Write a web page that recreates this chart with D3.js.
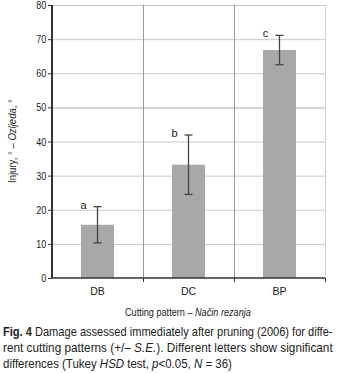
<!DOCTYPE html>
<html><head><meta charset="utf-8">
<script src="https://cdn.jsdelivr.net/npm/d3@7"></script>
<style>
body{margin:0;background:#fff;}
svg{display:block;font-family:"Liberation Sans Narrow","Arial Narrow","Liberation Sans",sans-serif;}
</style></head><body>
<svg id="c" width="338" height="373"></svg>
<script>
const categories = ["DB","DC","BP"];
const means = [15.6, 33.2, 66.8];
const errors = [5.3, 8.7, 4.3];
const letters = ["a","b","c"];
const yTicks = [0,10,20,30,40,50,60,70,80];

const svg = d3.select("#c");
const m = {l:52, r:13, t:5, b:95};
const W = 338, H = 373;
const x = d3.scaleBand().domain(categories).range([m.l, W-m.r]).paddingInner(0).paddingOuter(0);
const y = d3.scaleLinear().domain([0,80]).range([278, 5]);
const g = svg.append("g");

// fit a text element horizontally: place its left at x0 with width target
function fitText(sel, x0, yb, target, rotate) {
  const node = sel.node();
  const w = node.getComputedTextLength();
  const s = target / w;
  if (rotate) sel.attr("transform", `translate(${x0},${yb}) rotate(-90) scale(${s},1)`);
  else sel.attr("transform", `translate(${x0},${yb}) scale(${s},1)`);
}

// horizontal grid
g.selectAll(".hg").data(yTicks.slice(1)).join("line")
 .attr("x1", m.l).attr("x2", W-m.r)
 .attr("y1", d=>y(d)+0.5).attr("y2", d=>y(d)+0.5)
 .attr("stroke", "#c8c8c8").attr("stroke-width", d=>d===50?1.5:1);
// vertical grid at band boundaries
g.selectAll(".vg").data([1,2,3]).join("line")
 .attr("x1", d=>Math.round(m.l + x.bandwidth()*d)+0.5)
 .attr("x2", d=>Math.round(m.l + x.bandwidth()*d)+0.5)
 .attr("y1", y(80)).attr("y2", y(0))
 .attr("stroke", d=>d===3?"#d0d0d0":"#999").attr("stroke-width", 1);

// bars
const bw = 33;
g.selectAll(".bar").data(means).join("rect")
 .attr("x", (d,i)=>x(categories[i]) + x.bandwidth()/2 - bw/2)
 .attr("width", bw)
 .attr("y", d=>y(d)).attr("height", d=>y(0)-y(d))
 .attr("fill", "#a8a8a8");

// error bars
const cx = i => x(categories[i]) + x.bandwidth()/2;
const eb = g.selectAll(".eb").data(means).join("g")
 .attr("stroke", "#444").attr("stroke-width", 1.3);
eb.append("line")
 .attr("x1",(d,i)=>cx(i)).attr("x2",(d,i)=>cx(i))
 .attr("y1",(d,i)=>y(d+errors[i])).attr("y2",(d,i)=>y(d-errors[i]));
eb.append("line")
 .attr("x1",(d,i)=>cx(i)-4).attr("x2",(d,i)=>cx(i)+4)
 .attr("y1",(d,i)=>y(d+errors[i])).attr("y2",(d,i)=>y(d+errors[i]));
eb.append("line")
 .attr("x1",(d,i)=>cx(i)-4).attr("x2",(d,i)=>cx(i)+4)
 .attr("y1",(d,i)=>y(d-errors[i])).attr("y2",(d,i)=>y(d-errors[i]));

// letters
g.selectAll(".lt").data(letters).join("text")
 .attr("x",(d,i)=>cx(i)-14)
 .attr("y",(d,i)=>y(means[i]+errors[i])+2)
 .attr("text-anchor","middle").attr("font-size",11).attr("fill","#222").text(d=>d);

// y axis
const ya = g.append("g").attr("transform",`translate(${m.l},0)`)
 .call(d3.axisLeft(y).tickValues(yTicks).tickSize(4).tickPadding(3));
ya.select(".domain").attr("stroke","#333").attr("stroke-width",2).attr("d",`M0,${y(80)}V${y(0)}`);
ya.selectAll(".tick line").attr("stroke","#333");
ya.selectAll(".tick text").attr("font-size",11).attr("fill","#222").attr("font-family","inherit")
  .attr("transform","scale(0.82,1)");

// x axis
const xa = g.append("g").attr("transform",`translate(0,${y(0)})`)
 .call(d3.axisBottom(x).tickSize(0).tickPadding(10));
xa.select(".domain").attr("stroke","#333").attr("stroke-width",1.5).attr("d",`M${m.l},0H${W-m.r}`);
xa.selectAll(".tick text").attr("font-size",10.5).attr("fill","#222").attr("font-family","inherit");
// x boundary ticks
g.selectAll(".xt").data([1,2,3]).join("line")
 .attr("x1",d=>Math.round(m.l+x.bandwidth()*d)+0.5).attr("x2",d=>Math.round(m.l+x.bandwidth()*d)+0.5)
 .attr("y1",y(0)).attr("y2",y(0)+4).attr("stroke","#333");

// axis titles
const yt = svg.append("text").attr("font-size",11.5).attr("fill","#222");
yt.append("tspan").text("Injury, ° – ");
yt.append("tspan").attr("font-style","italic").text("Ozljeda");
yt.append("tspan").text(", °");
fitText(yt, 16, 183, 84, true);

const xt = svg.append("text").attr("font-size",11.5).attr("fill","#222");
xt.append("tspan").text("Cutting pattern – ");
xt.append("tspan").attr("font-style","italic").text("Način rezanja");
fitText(xt, 125, 316, 126, false);

// caption
const cap = svg.append("g").attr("font-size",13).attr("fill","#222");
const l1 = cap.append("text");
l1.append("tspan").attr("font-weight","bold").text("Fig. 4");
l1.append("tspan").text(" Damage assessed immediately after pruning (2006) for diffe-");
fitText(l1, 3, 336, 330, false);
const l2 = cap.append("text");
l2.append("tspan").text("rent cutting patterns (+/– ");
l2.append("tspan").attr("font-style","italic").text("S.E.");
l2.append("tspan").text("). Different letters show significant");
fitText(l2, 3, 352, 330, false);
const l3 = cap.append("text");
l3.append("tspan").text("differences (Tukey ");
l3.append("tspan").attr("font-style","italic").text("HSD");
l3.append("tspan").text(" test, ");
l3.append("tspan").attr("font-style","italic").text("p");
l3.append("tspan").text("<0.05, ");
l3.append("tspan").attr("font-style","italic").text("N");
l3.append("tspan").text(" = 36)");
fitText(l3, 3, 368, 229, false);
</script></body></html>
